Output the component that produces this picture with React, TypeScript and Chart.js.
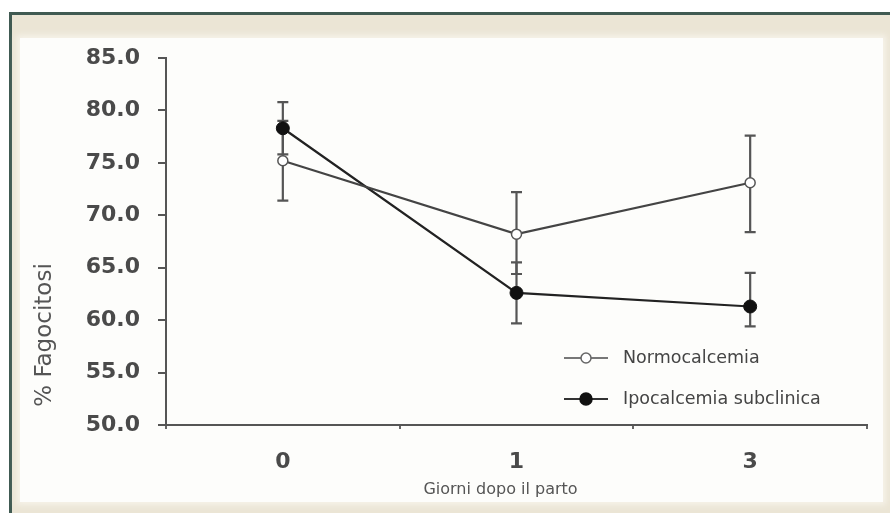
import React, { useEffect, useRef } from "react";
import { Chart, registerables } from "chart.js";

Chart.register(...registerables);

const categories = ["0", "1", "3"];
const seriesNames = ["Normocalcemia", "Ipocalcemia subclinica"];
const normValues = [75.2, 68.2, 73.1];
const normLow = [71.4, 64.4, 68.4];
const normHigh = [79.0, 72.2, 77.6];
const ipoValues = [78.3, 62.6, 61.3];
const ipoLow = [75.8, 59.7, 59.4];
const ipoHigh = [80.8, 65.5, 64.5];
const yMin = 50;
const yMax = 85;
const yStep = 5;
const yTitle = "% Fagocitosi";
const xTitle = "Giorni dopo il parto";

const FONT = "'DejaVu Sans', Verdana, sans-serif";

const errorBarPlugin = {
  id: "errorBars",
  beforeDatasetsDraw(chart: any) {
    const ctx = chart.ctx;
    const xs = chart.scales.x;
    const ys = chart.scales.y;
    const sets = [
      { low: normLow, high: normHigh },
      { low: ipoLow, high: ipoHigh },
    ];
    ctx.save();
    ctx.strokeStyle = "#555";
    ctx.lineWidth = 2.2;
    sets.forEach((s) => {
      categories.forEach((_, i) => {
        const x = xs.getPixelForValue(i);
        const y1 = ys.getPixelForValue(s.low[i]);
        const y2 = ys.getPixelForValue(s.high[i]);
        ctx.beginPath();
        ctx.moveTo(x, y1);
        ctx.lineTo(x, y2);
        ctx.moveTo(x - 5.5, y1);
        ctx.lineTo(x + 5.5, y1);
        ctx.moveTo(x - 5.5, y2);
        ctx.lineTo(x + 5.5, y2);
        ctx.stroke();
      });
    });
    ctx.restore();
  },
};

const decorPlugin = {
  id: "decor",
  afterDraw(chart: any) {
    const ctx = chart.ctx;
    const area = chart.chartArea;
    ctx.save();
    ctx.fillStyle = "#555";
    ctx.font = `23px ${FONT}`;
    ctx.textAlign = "center";
    ctx.textBaseline = "middle";
    ctx.translate(45, area.bottom - 90);
    ctx.rotate(-Math.PI / 2);
    ctx.fillText(yTitle, 0, 0);
    ctx.restore();

    ctx.save();
    ctx.fillStyle = "#555";
    ctx.font = `16px ${FONT}`;
    ctx.textAlign = "center";
    ctx.textBaseline = "middle";
    ctx.fillText(xTitle, (area.left + area.right) / 2 - 16, 490);
    ctx.restore();

    const items = [
      { name: seriesNames[0], fill: "#ffffff", stroke: "#666", line: "#777", r: 5 },
      { name: seriesNames[1], fill: "#111111", stroke: "#111", line: "#333", r: 6 },
    ];
    items.forEach((it, k) => {
      const y = 358 + k * 41;
      ctx.save();
      ctx.strokeStyle = it.line;
      ctx.lineWidth = 2;
      ctx.beginPath();
      ctx.moveTo(564, y);
      ctx.lineTo(608, y);
      ctx.stroke();
      ctx.beginPath();
      ctx.arc(586, y, it.r, 0, Math.PI * 2);
      ctx.fillStyle = it.fill;
      ctx.fill();
      ctx.lineWidth = 1.5;
      ctx.strokeStyle = it.stroke;
      ctx.stroke();
      ctx.fillStyle = "#444";
      ctx.font = `17.5px ${FONT}`;
      ctx.textAlign = "left";
      ctx.textBaseline = "middle";
      ctx.fillText(it.name, 623, y);
      ctx.restore();
    });
  },
};

export default function App() {
  const canvasRef = useRef<HTMLCanvasElement | null>(null);

  useEffect(() => {
    if (!canvasRef.current) return;
    const chart = new Chart(canvasRef.current, {
      type: "line",
      data: {
        labels: categories,
        datasets: [
          {
            label: seriesNames[0],
            data: normValues,
            borderColor: "#444",
            borderWidth: 2.2,
            pointRadius: 5,
            pointBackgroundColor: "#ffffff",
            pointBorderColor: "#555",
            pointBorderWidth: 1.5,
            tension: 0,
          },
          {
            label: seriesNames[1],
            data: ipoValues,
            borderColor: "#222",
            borderWidth: 2.2,
            pointRadius: 6.5,
            pointBackgroundColor: "#111",
            pointBorderColor: "#111",
            pointBorderWidth: 1,
            tension: 0,
          },
        ],
      },
      options: {
        responsive: false,
        animation: false,
        devicePixelRatio: 1,
        layout: { padding: { left: 0, top: 58, right: 23, bottom: 0 } },
        plugins: {
          legend: { display: false },
          tooltip: { enabled: false },
        },
        scales: {
          x: {
            type: "category",
            offset: true,
            afterFit: (s: any) => {
              s.height = 88;
            },
            grid: {
              offset: true,
              drawOnChartArea: false,
              tickLength: 4,
              color: "#666",
              lineWidth: 2,
            },
            border: { color: "#555", width: 2 },
            ticks: {
              color: "#4a4a4a",
              font: { family: FONT, size: 22, weight: "bold" },
              padding: 20,
            },
          },
          y: {
            min: yMin,
            max: yMax,
            afterFit: (s: any) => {
              s.width = 166;
            },
            grid: {
              drawOnChartArea: false,
              tickLength: 8,
              color: "#555",
              lineWidth: 2,
            },
            border: { color: "#555", width: 2 },
            ticks: {
              stepSize: yStep,
              color: "#4a4a4a",
              font: { family: FONT, size: 22, weight: "bold" },
              padding: 18,
              callback: (v: any) => Number(v).toFixed(1),
            },
          },
        },
      },
      plugins: [errorBarPlugin, decorPlugin],
    });
    return () => chart.destroy();
  }, []);

  return (
    <div style={{ position: "fixed", left: 0, top: 0, width: 890, height: 513, background: "#ffffff", overflow: "hidden" }}>
      <div
        style={{
          position: "absolute",
          left: 9,
          top: 12,
          right: 0,
          bottom: 0,
          borderTop: "3px solid #405a52",
          borderLeft: "3px solid #405a52",
          background: "#ebe5d5",
        }}
      />
      <div
        style={{
          position: "absolute",
          left: 20,
          top: 38,
          width: 863,
          height: 464,
          background: "#fdfdfb",
          boxShadow: "0 0 6px 3px #f6f3ea",
        }}
      />
      <canvas ref={canvasRef} width={890} height={513} style={{ position: "absolute", left: 0, top: 0 }} />
    </div>
  );
}
